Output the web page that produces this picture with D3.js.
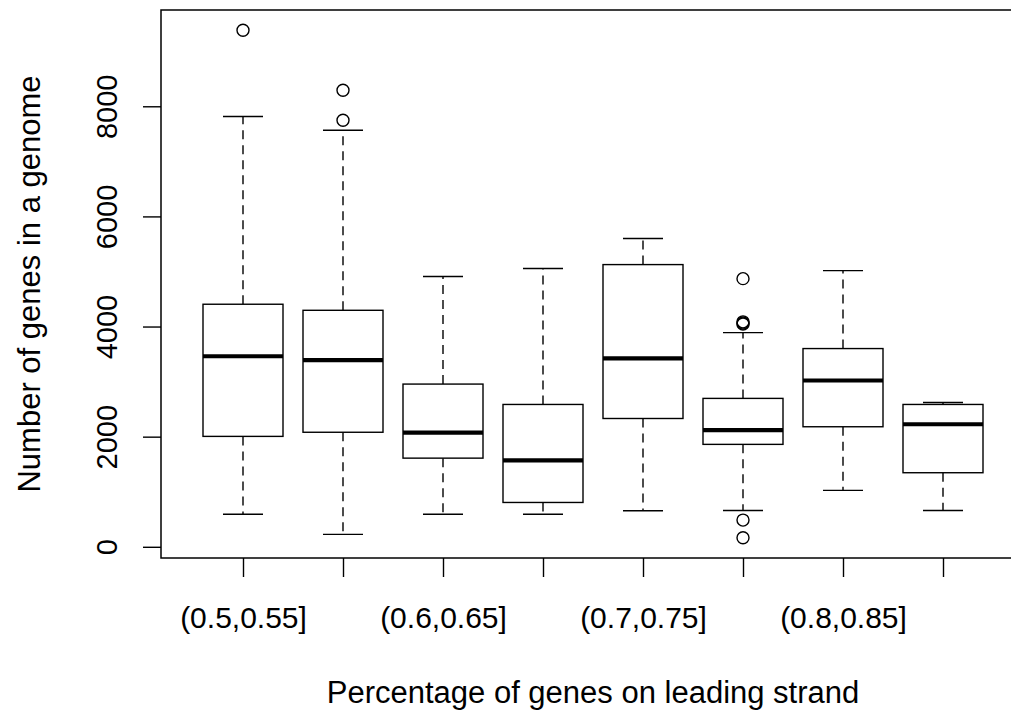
<!DOCTYPE html>
<html>
<head>
<meta charset="utf-8">
<script src="https://cdn.jsdelivr.net/npm/d3@7"></script>
<style>
  body { margin: 0; background: #fff; }
  text { font-family: "Liberation Sans", Arial, sans-serif; fill: #000; }
</style>
</head>
<body>
<div id="chart"></div>
<script>
const categories = ["(0.5,0.55]", "(0.55,0.6]", "(0.6,0.65]", "(0.65,0.7]",
                    "(0.7,0.75]", "(0.75,0.8]", "(0.8,0.85]", "(0.85,0.9]"];
const whiskerLow  = [590, 225, 590, 590, 655, 660, 1025, 660];
const q1          = [2005, 2080, 1610, 805, 2330, 1860, 2180, 1345];
const medians     = [3460, 3390, 2075, 1570, 3420, 2120, 3020, 2225];
const q3          = [4405, 4295, 2955, 2585, 5125, 2695, 3600, 2585];
const whiskerHigh = [7815, 7565, 4910, 5055, 5600, 3890, 5015, 2620];
const outliers    = [[9380], [7745, 8290], [], [], [],
                     [4870, 4045, 4065, 4085, 485, 165], [], []];
const yTicks = [0, 2000, 4000, 6000, 8000];

const W = 1011, H = 717;
const pLeft = 161, pTop = 10, pBottom = 558, pRight = 1025;

const svg = d3.select("#chart").append("svg")
    .attr("width", W).attr("height", H)
    .style("display", "block");

// R style: 4% padding around data range
const allVals = whiskerLow.concat(whiskerHigh, outliers.flat());
const lo = d3.min(allVals), hi = d3.max(allVals);
const pad = (hi - lo) * 0.04;

const y = d3.scaleLinear().domain([lo - pad, hi + pad]).range([pBottom, pTop]);
const n = categories.length;
const x = d3.scaleLinear().domain([0.5 - n * 0.04, n + 0.5 + n * 0.04]).range([pLeft, pRight]);
const bw = (x(2) - x(1)) * 0.8;

const plot = svg.append("g");

categories.forEach((c, i) => {
    const cx = x(i + 1);
    const g = plot.append("g");
    // whiskers
    g.append("line").attr("x1", cx).attr("x2", cx)
        .attr("y1", y(q3[i])).attr("y2", y(whiskerHigh[i]))
        .attr("stroke", "#000").attr("stroke-width", 1.4).attr("stroke-dasharray", "9,6");
    g.append("line").attr("x1", cx).attr("x2", cx)
        .attr("y1", y(q1[i])).attr("y2", y(whiskerLow[i]))
        .attr("stroke", "#000").attr("stroke-width", 1.4).attr("stroke-dasharray", "9,6");
    // staples
    [whiskerHigh[i], whiskerLow[i]].forEach(v => {
        g.append("line").attr("x1", cx - bw / 4).attr("x2", cx + bw / 4)
            .attr("y1", y(v)).attr("y2", y(v))
            .attr("stroke", "#000").attr("stroke-width", 1.4);
    });
    // box
    g.append("rect").attr("x", cx - bw / 2).attr("width", bw)
        .attr("y", y(q3[i])).attr("height", y(q1[i]) - y(q3[i]))
        .attr("fill", "#fff").attr("stroke", "#000").attr("stroke-width", 1.4);
    // median
    g.append("line").attr("x1", cx - bw / 2).attr("x2", cx + bw / 2)
        .attr("y1", y(medians[i])).attr("y2", y(medians[i]))
        .attr("stroke", "#000").attr("stroke-width", 4.2);
    // outliers
    g.selectAll("circle").data(outliers[i]).enter().append("circle")
        .attr("cx", cx).attr("cy", d => y(d)).attr("r", 6)
        .attr("fill", "none").attr("stroke", "#000").attr("stroke-width", 1.4);
});

// frame
svg.append("rect").attr("x", pLeft).attr("y", pTop)
    .attr("width", pRight - pLeft).attr("height", pBottom - pTop)
    .attr("fill", "none").attr("stroke", "#000").attr("stroke-width", 1.5);

// y axis
const yAxis = svg.append("g").attr("transform", `translate(${pLeft},0)`)
    .call(d3.axisLeft(y).tickValues(yTicks).tickSize(18).tickFormat(d3.format("d")));
yAxis.select(".domain").remove();
yAxis.selectAll("line").attr("stroke-width", 1.4);
yAxis.selectAll("text")
    .attr("x", null).attr("dy", null)
    .attr("text-anchor", "middle")
    .attr("transform", "translate(-44,0) rotate(-90)")
    .style("font-size", "29px").style("font-family", "'Liberation Sans', Arial, sans-serif");

// x axis
const xAxis = svg.append("g").attr("transform", `translate(0,${pBottom})`)
    .call(d3.axisBottom(x).tickValues(d3.range(1, n + 1)).tickSize(19)
        .tickFormat(d => (d % 2 === 1 ? categories[d - 1] : "")));
xAxis.select(".domain").remove();
xAxis.selectAll("line").attr("stroke-width", 1.4);
xAxis.selectAll("text")
    .attr("y", 70).attr("dy", null)
    .style("font-size", "30px").style("font-family", "'Liberation Sans', Arial, sans-serif");

// axis titles
svg.append("text")
    .attr("x", (pLeft + pRight) / 2).attr("y", 703)
    .attr("text-anchor", "middle").style("font-size", "31px")
    .text("Percentage of genes on leading strand");
svg.append("text")
    .attr("transform", `translate(40,${(pTop + pBottom) / 2}) rotate(-90)`)
    .attr("text-anchor", "middle").style("font-size", "31px")
    .text("Number of genes in a genome");
</script>
</body>
</html>
